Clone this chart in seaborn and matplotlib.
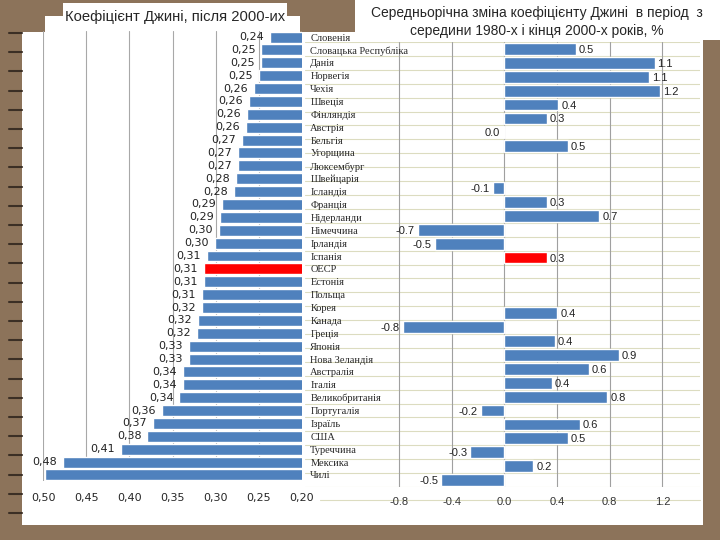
import numpy as np
import pandas as pd
import matplotlib
matplotlib.use("Agg")
import matplotlib.pyplot as plt
from matplotlib.patches import Rectangle
from matplotlib.lines import Line2D
import seaborn as sns

# країни (однаковий порядок для обох діаграм)
countries = ["Словенія", "Словацька Республіка", "Данія", "Норвегія", "Чехія",
             "Швеція", "Фінляндія", "Австрія", "Бельгія", "Угорщина",
             "Люксембург", "Швейцарія", "Ісландія", "Франція", "Нідерланди",
             "Німеччина", "Ірландія", "Іспанія", "ОЕСР", "Естонія", "Польща",
             "Корея", "Канада", "Греція", "Японія", "Нова Зеландія",
             "Австралія", "Італія", "Великобританія", "Португалія", "Ізраїль",
             "США", "Туреччина", "Мексика", "Чилі"]

# коефіцієнт Джині після 2000-их
gini_2000s = [0.237, 0.247, 0.248, 0.250, 0.256, 0.261, 0.264, 0.265, 0.270,
              0.274, 0.274, 0.276, 0.279, 0.293, 0.295, 0.296, 0.301, 0.310,
              0.314, 0.314, 0.316, 0.316, 0.321, 0.322, 0.331, 0.331, 0.338,
              0.338, 0.342, 0.362, 0.373, 0.379, 0.410, 0.477, 0.498]
gini_labels = ["0,24", "0,25", "0,25", "0,25", "0,26", "0,26", "0,26", "0,26",
               "0,27", "0,27", "0,27", "0,28", "0,28", "0,29", "0,29", "0,30",
               "0,30", "0,31", "0,31", "0,31", "0,31", "0,32", "0,32", "0,32",
               "0,33", "0,33", "0,34", "0,34", "0,34", "0,36", "0,37", "0,38",
               "0,41", "0,48", ""]

# середньорічна зміна, %
nan = np.nan
gini_change = [nan, nan, nan, 0.54, 1.14, 1.10, 1.18, 0.41, 0.32, -0.01, 0.48,
               nan, nan, -0.09, 0.32, 0.72, -0.66, -0.53, 0.32, nan, nan, nan,
               0.40, -0.77, 0.38, 0.87, 0.64, 0.36, 0.78, -0.18, 0.57, 0.48,
               -0.26, 0.22, -0.48]

left_ticks = [0.50, 0.45, 0.40, 0.35, 0.30, 0.25, 0.20]
right_ticks = [-0.8, -0.4, 0.0, 0.4, 0.8, 1.2]

BLUE = "#4F81BD"
RED = "#FF0000"
BROWN = "#8C735A"

sns.set_style("white")
plt.rcParams['font.family'] = ['Liberation Sans', 'DejaVu Sans']

W, H = 720, 540
fig = plt.figure(figsize=(7.2, 5.4), dpi=100, facecolor=BROWN)


def box(x0, y0, x1, y1):
    # пікселі з верхнього лівого кута -> частки фігури
    return [x0 / W, 1 - y1 / H, (x1 - x0) / W, (y1 - y0) / H]


# білий аркуш слайду
for x0, y0, x1, y1 in [(22, 32, 703, 525), (45, 16, 300, 32),
                       (63, 3, 287, 30), (355, 0, 720, 40)]:
    b = box(x0, y0, x1, y1)
    fig.add_artist(Rectangle((b[0], b[1]), b[2], b[3], transform=fig.transFigure,
                             facecolor="white", edgecolor="none", zorder=-1))

# "пружинка" зліва
for yy in np.arange(33, 520, 19.2):
    fig.add_artist(Line2D([9 / W, 22 / W], [1 - yy / H] * 2, color="#3B2F25",
                          lw=1.5, zorder=-0.5))

# лінія під підписами правої осі
fig.add_artist(Line2D([320 / W, 700 / W], [1 - 500 / H] * 2, color="#DCDCC0",
                      lw=0.8, zorder=0.5))

df = pd.DataFrame({"country": countries, "gini": gini_2000s, "change": gini_change})
pal = {c: (RED if c == "ОЕСР" else BLUE) for c in countries}

ax_r = fig.add_axes(box(305, 42, 700, 487))
ax_l = fig.add_axes(box(43, 30.6, 302, 481.4))
ax_r.set_zorder(1)
ax_l.set_zorder(2)
ax_r.patch.set_visible(False)
ax_l.patch.set_visible(False)

# ліва діаграма
sns.barplot(data=df, x="gini", y="country", hue="country", palette=pal,
            order=countries, orient="h", width=0.85, errorbar=None,
            legend=False, saturation=1, ax=ax_l)
ax_l.set_xlim(0.50, 0.20)
ax_l.set_ylim(len(countries) - 0.5, -0.5)
ax_l.set_xticks(left_ticks)
ax_l.set_xticklabels([f"{t:.2f}".replace(".", ",") for t in left_ticks],
                     family="DejaVu Sans")
ax_l.tick_params(axis="x", length=0, pad=8, labelsize=8)
ax_l.yaxis.tick_right()
ax_l.tick_params(axis="y", length=0, pad=6, labelsize=7.5)
for t in ax_l.get_yticklabels():
    t.set_family("Liberation Serif")
ax_l.grid(axis="x", color="#A8A8A8", lw=0.8)
ax_l.grid(axis="y", visible=False)
ax_l.set_axisbelow(True)
ax_l.set_xlabel("")
ax_l.set_ylabel("")
for s in ax_l.spines.values():
    s.set_visible(False)
for i, (v, lab) in enumerate(zip(gini_2000s, gini_labels)):
    if lab:
        ax_l.annotate(lab, (v, i), xytext=(-6, 0), textcoords="offset pixels",
                      ha="right", va="center", fontsize=8, family="DejaVu Sans",
                      color="#222222")

# права діаграма
sns.barplot(data=df, x="change", y="country", hue="country", palette=pal,
            order=countries, orient="h", width=0.85, errorbar=None,
            legend=False, saturation=1, ax=ax_r)
ax_r.set_xlim(-1.515, 1.485)
ax_r.set_ylim(34.5, 2.5)
ax_r.set_yticks([])
ax_r.set_xticks(right_ticks)
ax_r.set_xticklabels([f"{t:.1f}" for t in right_ticks])
ax_r.tick_params(axis="x", length=0, pad=7, labelsize=8, labelcolor="#333333")
ax_r.grid(axis="x", color="#A0A0A0", lw=0.8)
for bnd in np.arange(2.5, 35, 1):
    ax_r.axhline(bnd, color="#DCDCC0", lw=0.8, zorder=0.5)
ax_r.set_axisbelow(True)
ax_r.set_xlabel("")
ax_r.set_ylabel("")
for s in ax_r.spines.values():
    s.set_visible(False)
for i, v in enumerate(gini_change):
    if np.isnan(v):
        continue
    txt = f"{v:.1f}"
    if txt == "-0.0":
        txt = "0.0"
    ax_r.annotate(txt, (v, i), xytext=(3 if v >= 0 else -3, -1),
                  textcoords="offset pixels", ha="left" if v >= 0 else "right",
                  va="center", fontsize=8, color="#222222")

# заголовки
fig.text(65 / W, 1 - 17 / H, "Коефіцієнт Джині, після 2000-их",
         ha="left", va="center", fontsize=10.6, zorder=3)
fig.text(537 / W, 1 - 13 / H, "Середньорічна зміна коефіцієнту Джині  в період  з",
         ha="center", va="center", fontsize=10, zorder=3)
fig.text(537 / W, 1 - 31 / H, "середини 1980-х і кінця 2000-х років, %",
         ha="center", va="center", fontsize=10, zorder=3)

fig.savefig("out.png", dpi=100, facecolor=fig.get_facecolor())
